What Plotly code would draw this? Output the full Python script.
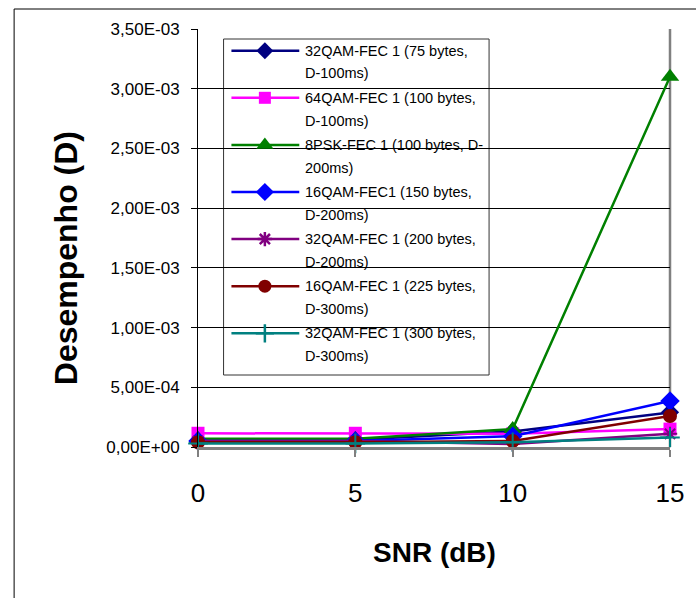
import plotly.graph_objects as go

# SNR values (dB) on the x axis
snr = [0, 5, 10, 15]

# Performance (D) per configuration
d_32qam_75 = [5.0e-5, 6.0e-5, 1.3e-4, 2.9e-4]
d_64qam_100 = [1.15e-4, 1.15e-4, 1.1e-4, 1.5e-4]
d_8psk_100 = [7.0e-5, 7.0e-5, 1.5e-4, 3.1e-3]
d_16qam_150 = [5.0e-5, 5.0e-5, 9.0e-5, 3.85e-4]
d_32qam_200 = [5.0e-5, 5.0e-5, 2.5e-5, 1.1e-4]
d_16qam_225 = [4.0e-5, 4.0e-5, 5.0e-5, 2.6e-4]
d_32qam_300 = [3.0e-5, 3.0e-5, 4.0e-5, 8.0e-5]

series_labels = [
    ("32QAM-FEC 1 (75 bytes,", "D-100ms)"),
    ("64QAM-FEC 1 (100 bytes,", "D-100ms)"),
    ("8PSK-FEC 1 (100 bytes, D-", "200ms)"),
    ("16QAM-FEC1 (150 bytes,", "D-200ms)"),
    ("32QAM-FEC 1 (200 bytes,", "D-200ms)"),
    ("16QAM-FEC 1 (225 bytes,", "D-300ms)"),
    ("32QAM-FEC 1 (300 bytes,", "D-300ms)"),
]

y_ticks = [0, 5e-4, 1e-3, 1.5e-3, 2e-3, 2.5e-3, 3e-3, 3.5e-3]
y_ticktext = ["0,00E+00", "5,00E-04", "1,00E-03", "1,50E-03",
              "2,00E-03", "2,50E-03", "3,00E-03", "3,50E-03"]
x_ticks = [0, 5, 10, 15]

values = [d_32qam_75, d_64qam_100, d_8psk_100, d_16qam_150,
          d_32qam_200, d_16qam_225, d_32qam_300]
colors = ["#000080", "#FF00FF", "#008000", "#0000FF",
          "#800080", "#800000", "#008080"]
symbols = ["diamond", "square", "triangle-up", "diamond",
           "asterisk", "circle", "cross-thin"]
sizes = [14, 13, 16, 15, 12, 14, 14]

FONT = "Liberation Sans, Arial, sans-serif"

# page geometry (px)
W, H = 696, 598
L, R, T, B = 198, 18, 29, 151
PW, PH = W - L - R, H - T - B


def px_x(px):
    return (px - L) / PW


def px_y(py):
    return (H - B - py) / PH


fig = go.Figure()

for vals, col, sym, sz, lab in zip(values, colors, symbols, sizes, series_labels):
    line_sym = sym in ("asterisk", "cross-thin")
    fig.add_trace(go.Scatter(
        x=snr, y=vals, mode="lines+markers",
        name=" ".join(lab),
        line=dict(color=col, width=2.5),
        marker=dict(symbol=sym, size=sz, color=col,
                    line=dict(color=col, width=2 if line_sym else 0)),
        cliponaxis=False, showlegend=False,
    ))

# legend drawn on an overlay axis spanning the plot area
leg_x0, leg_x1 = px_x(224), px_x(494)
leg_top, leg_bot = px_y(39), px_y(375)
row0, row_step, line_gap = 50.7, 47.1, 22.7
samp_x0, samp_x1, samp_xm, text_x = px_x(232), px_x(301), px_x(266), px_x(305)

annotations = []
for i, (col, sym, sz, lab) in enumerate(zip(colors, symbols, sizes, series_labels)):
    yrow = px_y(row0 + row_step * i)
    line_sym = sym in ("asterisk", "cross-thin")
    fig.add_trace(go.Scatter(
        x=[samp_x0, samp_x1], y=[yrow, yrow], mode="lines",
        line=dict(color=col, width=2.5), xaxis="x2", yaxis="y2",
        showlegend=False, hoverinfo="skip", cliponaxis=False))
    fig.add_trace(go.Scatter(
        x=[samp_xm], y=[yrow], mode="markers",
        marker=dict(symbol=sym, size=max(sz - 1, 12), color=col,
                    line=dict(color=col, width=2.5 if line_sym else 0)),
        xaxis="x2", yaxis="y2", showlegend=False, hoverinfo="skip",
        cliponaxis=False))
    for j, txt in enumerate(lab):
        annotations.append(dict(
            x=text_x, y=px_y(row0 + row_step * i + line_gap * j),
            xref="paper", yref="paper", text=txt, showarrow=False,
            xanchor="left", yanchor="middle",
            font=dict(family=FONT, size=14.5, color="#000000")))

annotations.append(dict(
    x=0.5, y=px_y(552), xref="paper", yref="paper", text="<b>SNR (dB)</b>",
    showarrow=False, xanchor="center", yanchor="middle",
    font=dict(family=FONT, size=28, color="#000000")))
annotations.append(dict(
    x=px_x(64), y=px_y(258), xref="paper", yref="paper",
    text="<b>Desempenho (D)</b>", textangle=-90, showarrow=False,
    xanchor="center", yanchor="middle",
    font=dict(family=FONT, size=32, color="#000000")))

shapes = [
    # outer chart frame
    dict(type="rect", xref="paper", yref="paper",
         x0=px_x(11), x1=px_x(740), y0=px_y(640), y1=px_y(9),
         line=dict(color="#000000", width=1), fillcolor="rgba(0,0,0,0)",
         layer="below"),
    # legend box
    dict(type="rect", xref="paper", yref="paper",
         x0=leg_x0, x1=leg_x1, y0=leg_bot, y1=leg_top,
         line=dict(color="#333333", width=1), fillcolor="#FFFFFF",
         layer="between"),
    # right border of the plot area
    dict(type="line", xref="paper", yref="paper", x0=1, x1=1, y0=0, y1=1,
         line=dict(color="#808080", width=2.5), layer="below"),
]

fig.update_layout(
    width=W, height=H,
    margin=dict(l=L, r=R, t=T, b=B),
    paper_bgcolor="#FFFFFF", plot_bgcolor="#FFFFFF",
    font=dict(family=FONT, color="#000000"),
    xaxis=dict(range=[0, 15], tickvals=x_ticks, ticktext=[str(v) for v in x_ticks],
               showgrid=False, zeroline=False, showline=True,
               linecolor="#808080", linewidth=2.5,
               ticks="outside", tickcolor="#808080", ticklen=7, tickwidth=2,
               tickfont=dict(family=FONT, size=26, color="#000000"),
               ticklabelstandoff=14),
    yaxis=dict(range=[0, 3.5e-3], tickvals=y_ticks, ticktext=y_ticktext,
               showgrid=True, gridcolor="#000000", gridwidth=1,
               zeroline=False, showline=True, linecolor="#000000", linewidth=1,
               ticks="outside", tickcolor="#000000", ticklen=6,
               tickfont=dict(family=FONT, size=17, color="#000000"),
               ticklabelstandoff=8),
    xaxis2=dict(overlaying="x", range=[0, 1], visible=False, domain=[0, 1]),
    yaxis2=dict(overlaying="y", range=[0, 1], visible=False),
    annotations=annotations,
    shapes=shapes,
    showlegend=False,
)

fig.write_html("out.html")
